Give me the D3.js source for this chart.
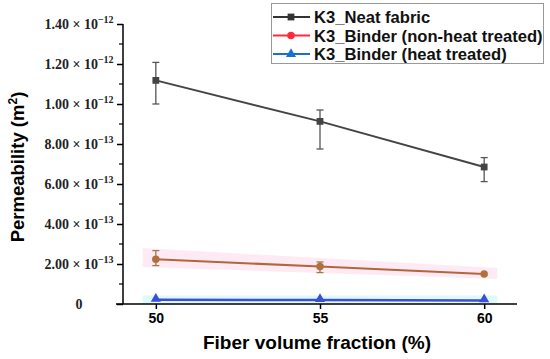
<!DOCTYPE html>
<html>
<head>
<meta charset="utf-8">
<script src="https://cdn.jsdelivr.net/npm/d3@7"></script>
<style>
  body { margin: 0; background: #fff; }
  svg { display: block; }
</style>
</head>
<body>
<div id="chart"></div>
<script>
// data (permeability in m^2)
const fiberFraction = [50, 55, 60];
const neatFabric = [1.118e-12, 0.913e-12, 0.685e-12];
const neatErrLow = [1.000e-12, 0.775e-12, 0.612e-12];
const neatErrHigh = [1.208e-12, 0.970e-12, 0.732e-12];
const binderNonHeat = [0.224e-12, 0.187e-12, 0.150e-12];
const nonHeatErrLow = [0.192e-12, 0.157e-12, 0.150e-12];
const nonHeatErrHigh = [0.267e-12, 0.210e-12, 0.150e-12];
const binderHeat = [0.021e-12, 0.020e-12, 0.018e-12];

// shaded bands behind the two binder lines
const bandX = [49.6, 60.4];
const pinkBandLow = [0.185e-12, 0.125e-12];
const pinkBandHigh = [0.280e-12, 0.180e-12];
const cyanBandLow = [0, 0];
const cyanBandHigh = [0.042e-12, 0.042e-12];

const yMajorTicks = [0, 2e-13, 4e-13, 6e-13, 8e-13, 1e-12, 1.2e-12, 1.4e-12];
const yMinorTicks = [1e-13, 3e-13, 5e-13, 7e-13, 9e-13, 1.1e-12, 1.3e-12];
const xTicks = [50, 55, 60];

const legendNames = ["K3_Neat fabric", "K3_Binder (non-heat treated)", "K3_Binder (heat treated)"];

const width = 550, height = 359;
const svg = d3.select("#chart").append("svg")
    .attr("width", width)
    .attr("height", height);

const x = d3.scaleLinear().domain([49, 61]).range([123, 517]);
const y = d3.scaleLinear().domain([0, 1.4e-12]).range([304, 24]);

// bands
const band = (lo, hi) => d3.area()
    .x((d, i) => x(bandX[i]))
    .y0((d, i) => y(lo[i]))
    .y1((d, i) => y(hi[i]));
svg.append("path").attr("d", band(pinkBandLow, pinkBandHigh)(bandX)).attr("fill", "#feeaf5");
svg.append("path").attr("d", band(cyanBandLow, cyanBandHigh)(bandX)).attr("fill", "#dff9fc");

// axes
const yAxis = svg.append("g")
    .attr("transform", `translate(${x(49)},0)`)
    .call(d3.axisLeft(y).tickValues(yMajorTicks).tickSize(6).tickFormat(""));
yAxis.select(".domain").remove();
yAxis.selectAll("line").attr("stroke", "#000").attr("stroke-width", 1.5);

svg.append("g")
    .selectAll("line")
    .data(yMinorTicks)
    .join("line")
    .attr("x1", x(49) - 4).attr("x2", x(49))
    .attr("y1", d => y(d)).attr("y2", d => y(d))
    .attr("stroke", "#000").attr("stroke-width", 1.2);

const xAxis = svg.append("g")
    .attr("transform", `translate(0,${y(0)})`)
    .call(d3.axisBottom(x).tickValues(xTicks).tickSize(5).tickPadding(4));
xAxis.select(".domain").remove();
xAxis.selectAll("line").attr("stroke", "#000").attr("stroke-width", 1.5);
xAxis.selectAll("text")
    .attr("fill", "#000")
    .style("font-family", "'Liberation Sans', Arial, sans-serif")
    .style("font-weight", "bold")
    .style("font-size", "14px");

svg.append("line")
    .attr("x1", x(49)).attr("x2", x(49))
    .attr("y1", y(1.4e-12)).attr("y2", y(0))
    .attr("stroke", "#000").attr("stroke-width", 1.5);
svg.append("line")
    .attr("x1", x(49) - 7).attr("x2", x(61))
    .attr("y1", y(0)).attr("y2", y(0))
    .attr("stroke", "#000").attr("stroke-width", 1.5);

// y tick labels like "1.40 × 10^-12"
const yLab = svg.append("g")
    .style("font-family", "'Liberation Serif', 'Times New Roman', serif")
    .style("font-weight", "bold")
    .attr("fill", "#222");
yMajorTicks.forEach(v => {
    const t = yLab.append("text")
        .attr("x", 79)
        .attr("y", y(v) + 4.5)
        .attr("text-anchor", "middle")
        .style("font-size", "14px");
    if (v === 0) {
        t.text("0");
        return;
    }
    const exp = Math.floor(Math.log10(v) + 1e-9);
    const mant = v / Math.pow(10, exp);
    t.append("tspan").text(mant.toFixed(2) + " \u00d7 10");
    t.append("tspan").attr("dy", -6).style("font-size", "10px").text("\u2212" + (-exp));
});

// axis titles
svg.append("text")
    .attr("x", 317)
    .attr("y", 349)
    .attr("text-anchor", "middle")
    .style("font-family", "'Liberation Sans', Arial, sans-serif")
    .style("font-weight", "bold")
    .style("font-size", "19px")
    .text("Fiber volume fraction (%)");

const yTitle = svg.append("text")
    .attr("transform", "translate(24,167) rotate(-90)")
    .attr("text-anchor", "middle")
    .style("font-family", "'Liberation Sans', Arial, sans-serif")
    .style("font-weight", "bold")
    .style("font-size", "18.5px");
yTitle.append("tspan").text("Permeability (m");
yTitle.append("tspan").attr("dy", -7).style("font-size", "12px").text("2");
yTitle.append("tspan").attr("dy", 7).text(")");

// series
const line = d3.line().x((d, i) => x(fiberFraction[i])).y(d => y(d));

function errorBars(lo, hi, color) {
    const g = svg.append("g").attr("stroke", color).attr("stroke-width", 1.3);
    fiberFraction.forEach((f, i) => {
        if (hi[i] - lo[i] <= 0) return;
        const cx = x(f);
        g.append("line").attr("x1", cx).attr("x2", cx).attr("y1", y(lo[i])).attr("y2", y(hi[i]));
        g.append("line").attr("x1", cx - 3.5).attr("x2", cx + 3.5).attr("y1", y(lo[i])).attr("y2", y(lo[i]));
        g.append("line").attr("x1", cx - 3.5).attr("x2", cx + 3.5).attr("y1", y(hi[i])).attr("y2", y(hi[i]));
    });
}

errorBars(neatErrLow, neatErrHigh, "#555");
errorBars(nonHeatErrLow, nonHeatErrHigh, "#9c7a4a");

svg.append("path").attr("d", line(neatFabric)).attr("fill", "none").attr("stroke", "#444").attr("stroke-width", 2);
svg.append("path").attr("d", line(binderNonHeat)).attr("fill", "none").attr("stroke", "#b0683a").attr("stroke-width", 2);
svg.append("path").attr("d", line(binderHeat)).attr("fill", "none").attr("stroke", "#3a4fd6").attr("stroke-width", 2.5);

const sq = d3.symbol().type(d3.symbolSquare).size(46);
const ci = d3.symbol().type(d3.symbolCircle).size(44);
const tr = d3.symbol().type(d3.symbolTriangle).size(44);

svg.append("g").selectAll("path").data(neatFabric).join("path")
    .attr("transform", (d, i) => `translate(${x(fiberFraction[i])},${y(d)})`)
    .attr("d", sq).attr("fill", "#444");
svg.append("g").selectAll("path").data(binderNonHeat).join("path")
    .attr("transform", (d, i) => `translate(${x(fiberFraction[i])},${y(d)})`)
    .attr("d", ci).attr("fill", "#b0703c");
svg.append("g").selectAll("path").data(binderHeat).join("path")
    .attr("transform", (d, i) => `translate(${x(fiberFraction[i])},${y(d) - 1})`)
    .attr("d", tr).attr("fill", "#3a4fd6");

// legend
const legend = svg.append("g");
legend.append("rect")
    .attr("x", 271.5).attr("y", 3.5)
    .attr("width", 272).attr("height", 60)
    .attr("fill", "#fff").attr("stroke", "#999").attr("stroke-width", 1);
const legColors = ["#333", "#ff2a3a", "#1a6fd0"];
const legSymbols = [sq, ci, tr];
legendNames.forEach((name, i) => {
    const row = legend.append("g").attr("transform", `translate(0,${17 + i * 18.5})`);
    row.append("line").attr("x1", 273).attr("x2", 310).attr("y1", 0).attr("y2", 0)
        .attr("stroke", legColors[i]).attr("stroke-width", 1.8);
    row.append("path").attr("transform", "translate(291,0)").attr("d", legSymbols[i]).attr("fill", legColors[i]);
    row.append("text").attr("x", 314).attr("y", 6)
        .style("font-family", "'Liberation Sans', Arial, sans-serif")
        .style("font-weight", "bold")
        .style("font-size", "16.6px")
        .attr("fill", "#111")
        .text(name);
});
</script>
</body>
</html>
